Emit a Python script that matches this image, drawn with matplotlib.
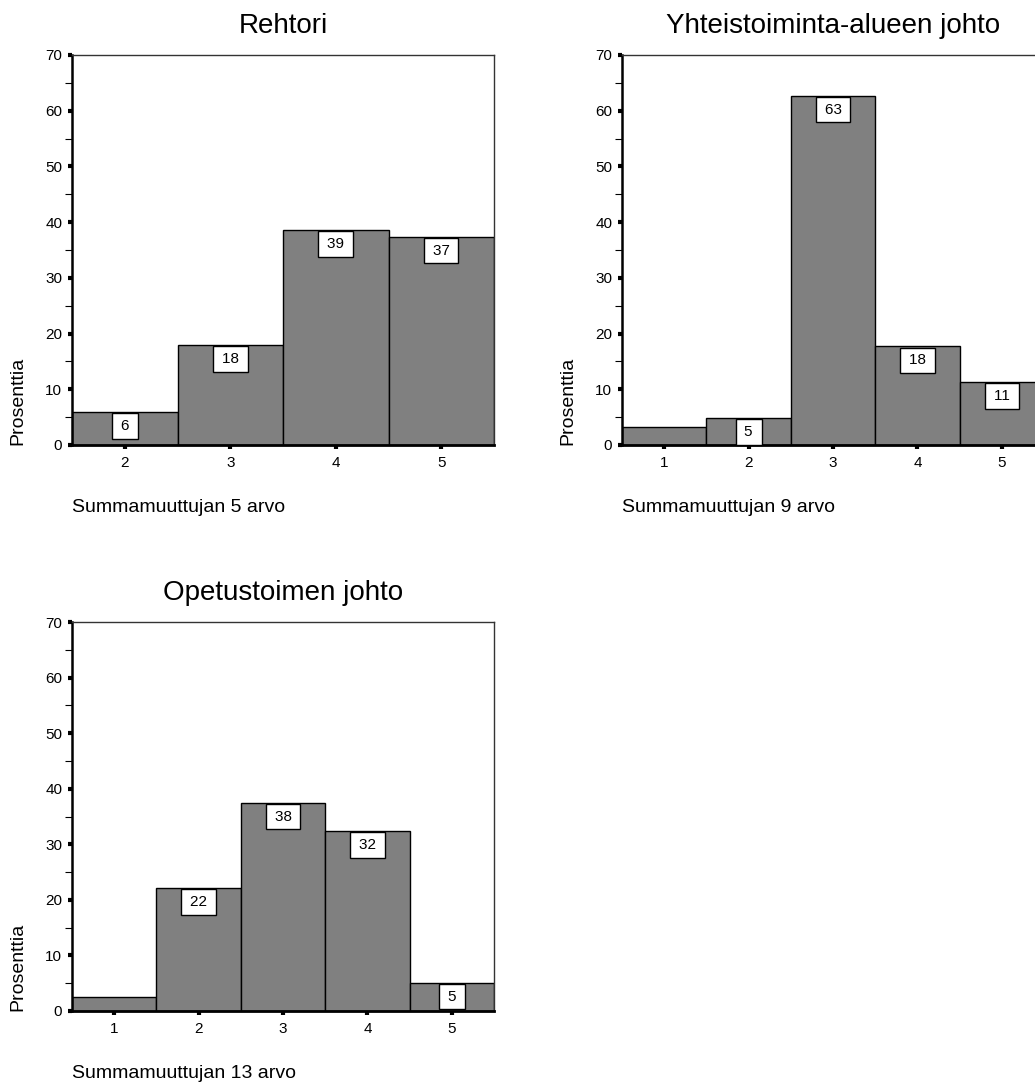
import numpy as np
import matplotlib
matplotlib.use('Agg')
import matplotlib.pyplot as plt
from matplotlib.ticker import MultipleLocator

plt.rcParams['font.family'] = ['Liberation Sans', 'DejaVu Sans']

# Data (percentages)
titles = ['Rehtori', 'Yhteistoiminta-alueen johto', 'Opetustoimen johto']
xlabels = ['Summamuuttujan 5 arvo', 'Summamuuttujan 9 arvo', 'Summamuuttujan 13 arvo']

rehtori_x = [2, 3, 4, 5]
rehtori_pct = [5.9, 18.0, 38.6, 37.4]
rehtori_lab = ['6', '18', '39', '37']

yhteis_x = [1, 2, 3, 4, 5]
yhteis_pct = [3.3, 4.9, 62.7, 17.7, 11.3]
yhteis_lab = [None, '5', '63', '18', '11']

opetus_x = [1, 2, 3, 4, 5]
opetus_pct = [2.5, 22.1, 37.5, 32.4, 5.1]
opetus_lab = [None, '22', '38', '32', '5']

W, H = 1035, 1088
fig = plt.figure(figsize=(W / 100, H / 100), dpi=100)

def px_axes(left, top, width, height):
    return fig.add_axes([left / W, 1 - (top + height) / H, width / W, height / H])

def draw_panel(ax, x, pct, labels, title, xlabel):
    ax.bar(x, pct, width=1.0, color='#808080', edgecolor='black', linewidth=1.0)
    ax.set_xlim(min(x) - 0.5, max(x) + 0.5)
    ax.set_ylim(0, 70)
    ax.set_xticks(x)
    ax.yaxis.set_major_locator(MultipleLocator(10))
    ax.yaxis.set_minor_locator(MultipleLocator(5))
    ax.tick_params(axis='y', which='major', direction='out', length=3, width=3,
                   labelsize=11, pad=4)
    ax.tick_params(axis='y', which='minor', direction='out', length=5, width=0.8)
    ax.tick_params(axis='x', which='major', direction='out', length=3, width=3,
                   labelsize=11, pad=5)
    for side in ['top', 'right']:
        ax.spines[side].set_linewidth(1.0)
        ax.spines[side].set_color('#333333')
    ax.spines['left'].set_linewidth(1.8)
    ax.spines['bottom'].set_linewidth(2.0)
    fig.canvas.draw()
    ax.get_yticklabels()[0].set_va('bottom')

    # value labels in white boxes, just under the bar top
    for xi, v, lab in zip(x, pct, labels):
        if lab is None:
            continue
        ax.annotate(f'\u2009{lab}\u2009', xy=(xi, v), xytext=(0, -7), textcoords='offset pixels',
                    ha='center', va='top', fontsize=11,
                    bbox=dict(boxstyle='square,pad=0.38', fc='white', ec='black', lw=1.0))

    ax.set_title(title, fontsize=20, pad=16)
    ax.annotate(xlabel, xy=(0, 0), xycoords='axes fraction', xytext=(0, -63),
                textcoords='offset pixels', ha='left', va='center', fontsize=14)
    ax.annotate('Prosenttia', xy=(0, 0), xycoords='axes fraction', xytext=(-54, 0),
                textcoords='offset pixels', ha='center', va='bottom', rotation=90,
                fontsize=14)

ax1 = px_axes(72, 55, 422, 390)
draw_panel(ax1, rehtori_x, rehtori_pct, rehtori_lab, titles[0], xlabels[0])

ax2 = px_axes(622, 55, 422, 390)
draw_panel(ax2, yhteis_x, yhteis_pct, yhteis_lab, titles[1], xlabels[1])

ax3 = px_axes(72, 622, 422, 389)
draw_panel(ax3, opetus_x, opetus_pct, opetus_lab, titles[2], xlabels[2])

fig.savefig('out.png', dpi=100)
